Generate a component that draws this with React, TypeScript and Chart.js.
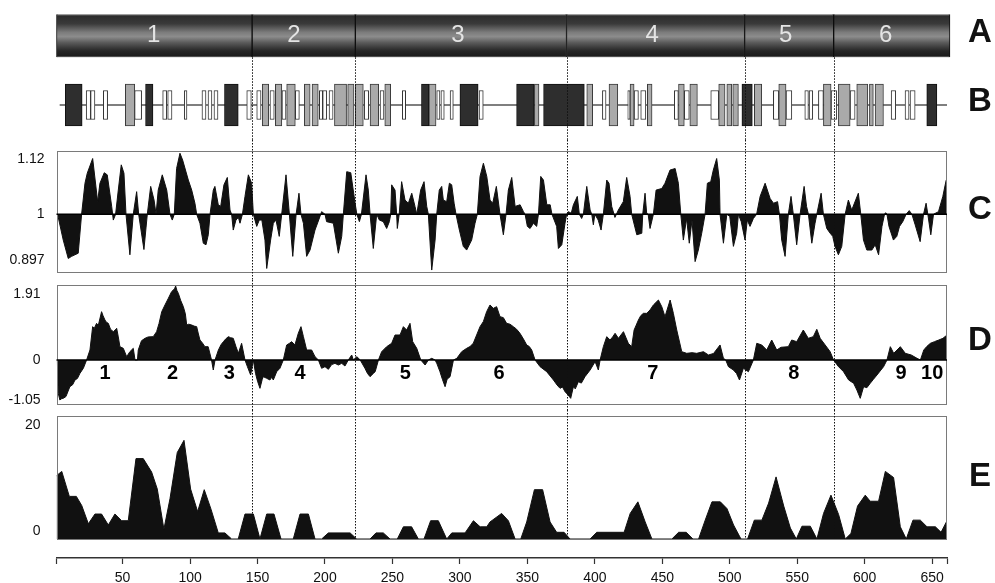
import React, { useEffect, useRef } from "react";
import { Chart, registerables } from "chart.js";

Chart.register(...registerables);

const FONT = "'Liberation Sans', Arial, Helvetica, sans-serif";
Chart.defaults.font.family = FONT;
Chart.defaults.color = "#111";

// ---------- shared x axis (residue number) ----------
const X_MIN = 1;
const X_MAX = 661;
const X_TICKS = [1, 50, 100, 150, 200, 250, 300, 350, 400, 450, 500, 550, 600, 650, 661];
const X_TICK_LABELS = ["50", "100", "150", "200", "250", "300", "350", "400", "450", "500", "550", "600", "650"];
const BOUNDARIES = [146, 222.5, 379, 511, 577];

// ---------- panel A : domains ----------
const A_DOMAINS: [number, number][] = [
  [1, 146], [146, 222.5], [222.5, 379], [379, 511], [511, 577], [577, 663.2],
];
const A_LABELS = ["1", "2", "3", "4", "5", "6"];
const A_LABEL_X = [73, 177, 298.5, 442.5, 541.5, 615.5];

// ---------- panel B : exon/box map ----------
const B_LINE: [number, number][] = [[3.6, 661.8]];
const B_DARK: [number, number][] = [
  [7.5, 20], [67, 72.5], [125.5, 135.7], [271.5, 277], [300, 313.5], [342, 355],
  [362, 392.2], [509, 516.7], [646, 653.5],
];
const B_GRAY: [number, number][] = [
  [52, 59], [153.5, 158.3], [163.2, 168], [171.6, 178], [184.7, 189], [190.4, 195],
  [207, 216], [216.8, 221.5], [222.5, 228.4], [233.4, 239.8], [244.3, 248.7], [277, 282.3],
  [355.2, 358.6], [394, 398.4], [410.5, 417], [426.1, 429.1], [438.9, 442.4], [462, 466.3],
  [470.4, 476], [491.8, 496.5], [497.8, 501.5], [502.2, 506.4], [518.2, 523.7], [536.3, 541.7],
  [569.4, 575.1], [580.5, 589.2], [594.1, 602.3], [603.5, 606.4], [607.7, 613.9],
];
const B_WHITE: [number, number][] = [
  [23, 26.3], [26.3, 29.5], [35.7, 38.9], [58.9, 64.1], [79.7, 82.7], [83.4, 86.6],
  [95.7, 97.7], [108.8, 111.8], [113.3, 116.2], [117.7, 120.7], [142, 145.4], [149.4, 152.6],
  [159.2, 162.4], [168.1, 171.1], [178, 181], [195.8, 198.3], [198.3, 201.3], [203, 206],
  [229.1, 232.4], [240.8, 243.7], [257.3, 259.8], [282.8, 285.2], [285.9, 288.4], [292.7, 295.1],
  [314.2, 317.3], [405.6, 408.3], [424.4, 426.1], [429.1, 432.3], [434, 437.8], [458.9, 461.9],
  [466.3, 470], [485.9, 491.8], [532.3, 536.3], [541.7, 546], [555.6, 558.3], [558.8, 561.5],
  [565.7, 569.4], [575.1, 579.3], [589.2, 592.9], [619.6, 623], [629.9, 632.9], [633.6, 637.4],
];

// ---------- panel C ----------
const C_PROFILE: [number, number][] = [
  [1.8, 1], [6, 0.951], [9.7, 0.916], [12.2, 0.92], [17.1, 0.926], [19.6, 1], [22.1, 1.059], [23.8, 1.078],
  [27.8, 1.106], [31.5, 1.024], [33.2, 1.059], [36.4, 1.079], [38.6, 1.075], [41.9, 1.015], [43.1, 0.989],
  [44.8, 1], [46.8, 1.046], [49, 1.094], [51, 1.078], [52.5, 1], [55.4, 0.923], [57.9, 1], [60.4, 1.043],
  [61.9, 1], [65.8, 0.933], [68.3, 1], [70.8, 1.053], [73.3, 1.027], [74.8, 1], [76.4, 1.046], [79.4, 1.075],
  [82.7, 1.046], [85.1, 1], [86.8, 0.989], [88.3, 1], [90, 1.087], [92.5, 1.116], [94.5, 1.103], [98.7, 1.065],
  [101.2, 1.046], [103.6, 1.021], [104.9, 1], [107.3, 0.983], [109.8, 0.945], [111.8, 0.942], [113.5, 0.961],
  [114.8, 1], [117.2, 1.046], [118.4, 1.053], [120.9, 1.018], [122.7, 1.015], [125.1, 1.056], [127.6, 1.07],
  [129.6, 1.008], [130.8, 1], [132, 0.97], [134, 0.989], [135.8, 0.994], [137, 0.983], [138.8, 1],
  [140.7, 1.034], [143.2, 1.075], [145.6, 1.059], [146.9, 1], [149.4, 0.977], [151.3, 0.989], [153.2, 0.989],
  [155.5, 0.951], [156.8, 0.897], [159.7, 0.951], [161.7, 0.983], [163.7, 0.989], [166.1, 0.958], [167.9, 1],
  [171.1, 1.075], [173.6, 1], [176.1, 0.92], [178.6, 1], [180.7, 1.04], [182.2, 1], [184, 0.983], [186.4, 0.92],
  [188.9, 0.932], [192.6, 0.97], [196.3, 0.996], [197.5, 1.005], [200, 1], [201.2, 0.986], [206.2, 0.983],
  [209.9, 0.926], [212.4, 0.958], [213.6, 1], [216.1, 1.081], [219.1, 1.079], [222.3, 1.021], [223.6, 1],
  [225.5, 0.986], [227, 1], [230.4, 1.075], [232.1, 1.046], [233.4, 1], [235.8, 0.935], [238.3, 1],
  [240.3, 0.989], [243.2, 0.986], [245.7, 0.973], [247.7, 0.986], [248.7, 1], [249.4, 1.056], [251.9, 1.046],
  [253.1, 1], [253.6, 0.973], [255, 1], [256.8, 1.062], [259.3, 1.027], [261.8, 1.021], [264.3, 1.04],
  [266.7, 1.015], [268, 1], [270.9, 1.046], [273.4, 1.062], [275.4, 1.015], [276.6, 1], [279.1, 0.894],
  [281.6, 0.951], [282.8, 1], [284.7, 1.046], [286.5, 1.053], [287.7, 1.027], [290.2, 1.024], [292.2, 1.059],
  [293.9, 1.056], [295.7, 1.021], [297.1, 1], [299.6, 0.97], [302.5, 0.939], [305, 0.932], [308.7, 0.951],
  [311.2, 0.983], [312.9, 1], [314.9, 1.072], [317.4, 1.097], [319.9, 1.072], [322.3, 1.027], [324.3, 1.021],
  [327, 1.053], [329.7, 1], [332.2, 0.961], [334.2, 1], [335.9, 1.046], [338.4, 1.07], [340.9, 1.015],
  [344.6, 1.018], [347.1, 1.005], [348.3, 1], [350, 0.977], [352, 0.973], [354.5, 0.983], [356.9, 0.977],
  [358.2, 1], [359.9, 1.072], [361.9, 1.065], [364.4, 1.018], [366.9, 1.018], [368.2, 1], [371.7, 0.977],
  [373, 0.935], [375.5, 0.942], [377.9, 0.983], [379.1, 1], [380.4, 1.005], [382.5, 1.002], [384.1, 1.018],
  [387, 1.034], [388.5, 1], [390.2, 0.992], [391.5, 1], [394, 1.053], [396.5, 1.008], [397.7, 1], [398.9, 0.98],
  [400, 1], [402.5, 0.989], [404.6, 0.97], [406.3, 1], [408.8, 1.065], [410.5, 1.059], [412.5, 1.015],
  [414.9, 0.994], [417.4, 1.008], [421.1, 1.024], [423.6, 1.07], [426.1, 1.034], [427.3, 1], [431.1, 0.961],
  [434.8, 0.964], [435.5, 1], [437.2, 1.04], [438.4, 1.002], [439.5, 1], [440.9, 0.973], [443.4, 1],
  [445.4, 1.046], [449.6, 1.049], [452, 1.059], [455.7, 1.084], [459.5, 1.087], [461.9, 1.059], [463.7, 1],
  [465.6, 0.951], [468, 0.992], [470, 0.945], [472, 0.989], [474.3, 0.91], [476.7, 0.932], [479.2, 0.964],
  [481.7, 1], [483.4, 1.059], [485.9, 1.062], [487.8, 1.084], [490.3, 1.106], [492.3, 1.065], [492.8, 1],
  [495.3, 0.945], [497.8, 1], [500, 0.996], [502.7, 0.939], [505.1, 0.964], [506.4, 1], [508.5, 0.986],
  [511.3, 0.951], [513, 0.989], [515, 0.977], [517.5, 0.992], [519.9, 1], [522.5, 1.034], [526.2, 1.059],
  [529.9, 1.03], [532.4, 1.021], [535.4, 1.024], [536.8, 1], [538.5, 0.951], [541, 0.92], [543.4, 1],
  [545.4, 1.034], [547.1, 1], [549.6, 0.942], [552.1, 1], [555.1, 1.053], [556.9, 1.015], [558.3, 1],
  [560.8, 0.945], [563.2, 0.983], [564.5, 1], [567.7, 1.04], [569.4, 1], [571.9, 0.973], [574.4, 0.964],
  [576.3, 0.958], [578, 0.939], [580.5, 0.923], [583, 0.939], [585.5, 1], [587.9, 1.027], [590.4, 1.008],
  [595.3, 1.04], [597.1, 1], [599.1, 0.951], [601.6, 0.932], [605.3, 0.932], [607.8, 0.942], [610.3, 0.923],
  [612.8, 0.977], [614.7, 1], [615.5, 1.003], [616.5, 1], [618, 0.977], [621.3, 0.951], [623.8, 0.958],
  [625.8, 0.977], [628.2, 0.986], [630.7, 1], [633, 1.007], [635, 1], [637.4, 0.98], [641.1, 0.948],
  [643.6, 1], [645.5, 1.021], [646.8, 1], [649, 0.961], [651, 1], [654.7, 1.005], [657.9, 1.034], [660.4, 1.065],
];
const C_RANGE = [0.8897, 1.1203];
const C_TICKS = [0.897, 1, 1.12];
const C_TICK_LABELS = ["0.897", "1", "1.12"];

// ---------- panel D ----------
const D_PROFILE: [number, number][] = [
  [1.6, 0], [2.3, -0.866], [3.5, -1.039], [5, -1.0], [6, -0.996], [8, -0.95], [10.9, -0.693], [13, -0.64],
  [14.7, -0.519], [16.5, -0.48], [18.4, -0.346], [20.9, -0.216], [23.3, 0], [25.8, 0.26], [27.8, 0.866],
  [29, 0.82], [30.7, 0.952], [32, 0.9], [34.4, 1.255], [35.5, 1.15], [36.9, 1.039], [38, 0.98], [39.4, 0.952],
  [41, 0.8], [43.1, 0.736], [44.5, 0.78], [45.6, 0.823], [46.8, 0.6], [48, 0.346], [50.5, 0.303], [53, 0.087],
  [55.4, 0.216], [57.9, 0.303], [59.2, 0], [61, 0], [61.6, 0.26], [64, 0.5], [66.6, 0.563], [69, 0.6],
  [72.7, 0.606], [75.2, 0.736], [77, 0.95], [79, 1.255], [81.4, 1.429], [83.9, 1.602], [86.3, 1.775],
  [88.5, 1.85], [89.3, 1.922], [90.3, 1.8], [91.3, 1.732], [93, 1.55], [95, 1.385], [96.5, 1.2], [97.5, 0.909],
  [99, 0.93], [101.2, 0.909], [103, 0.88], [104.9, 0.866], [106, 0.7], [107.3, 0.519], [109, 0.45],
  [111, 0.346], [113.4, 0.346], [115.9, 0], [117.2, -0.26], [118.5, 0], [121, 0.26], [123, 0.4], [124.7, 0.476],
  [126.5, 0.55], [128.4, 0.606], [130, 0.58], [132, 0.563], [134, 0.35], [135.8, 0.173], [138.2, 0.433],
  [140.7, 0], [142.5, -0.173], [144.9, -0.39], [146.9, 0], [148.5, -0.346], [150, -0.55], [151.8, -0.736],
  [153.5, -0.5], [154.3, -0.433], [156.8, -0.476], [159.2, -0.519], [160.5, -0.45], [161.7, -0.519],
  [164.2, -0.303], [166.6, -0.216], [169.1, 0], [171.6, 0.39], [173.5, 0.43], [175.3, 0.476], [177.7, 0.39],
  [180.2, 0.693], [182.2, 0.866], [184, 0.606], [186.4, 0.26], [188.9, 0.26], [190.1, 0.26], [192.6, 0.087],
  [195.1, 0], [197.5, -0.216], [200, -0.173], [202.5, -0.242], [204.9, -0.12], [207.4, -0.087], [209.9, -0.13],
  [212.4, -0.087], [214.8, -0.156], [217.3, 0], [219.8, 0.13], [221, 0], [223.6, 0.087], [226.1, 0],
  [229.6, -0.216], [231.5, -0.35], [233.4, -0.433], [235.8, -0.35], [237.2, -0.303], [239.6, 0], [242, 0.216],
  [245.7, 0.346], [249.4, 0.433], [251.9, 0.649], [255.6, 0.649], [258.1, 0.866], [260.5, 0.779], [263, 0.952],
  [265, 0.476], [268, 0.303], [271, 0], [274.2, -0.13], [276.6, 0], [279.1, 0.043], [281.6, 0], [283, -0.1],
  [285.2, -0.303], [287, -0.5], [289, -0.693], [290.5, -0.5], [292.7, -0.433], [295.2, 0], [297.7, 0.043],
  [301.3, 0.216], [305, 0.303], [307.5, 0.35], [309.9, 0.433], [312.4, 0.65], [314.9, 0.866], [317.4, 1.0],
  [319.8, 1.255], [322.3, 1.429], [324.8, 1.342], [327.2, 1.385], [329.7, 1.126], [332.2, 1.1], [334.6, 0.952],
  [337.1, 0.93], [339.6, 0.866], [342, 0.8], [344.5, 0.693], [347, 0.55], [349.5, 0.39], [351.4, 0.35],
  [353.2, 0.26], [355.7, 0], [359.4, -0.173], [364.3, -0.303], [369.3, -0.519], [372, -0.65], [374.2, -0.736],
  [376, -0.7], [377.9, -0.823], [380, -0.9], [382.1, -0.996], [384.1, -0.693], [385.5, -0.75], [387.8, -0.563],
  [390, -0.6], [392.7, -0.433], [396.5, -0.26], [400.2, -0.043], [402.6, -0.26], [403.9, 0], [406.3, 0.346],
  [408.8, 0.606], [411.3, 0.519], [413.2, 0.6], [415, 0.693], [417.5, 0.563], [421.2, 0.736], [424.8, 0.433],
  [427.3, 0.346], [429.1, 0.779], [432.3, 1.039], [434, 1.15], [436, 1.212], [438.5, 1.212], [440.9, 1.3],
  [443.4, 1.429], [447.1, 1.558], [449.6, 1.385], [452, 1.126], [455.8, 1.558], [458.2, 1.212], [460.7, 0.779],
  [464.4, 0.216], [468.1, 0.173], [472, 0.19], [475.5, 0.173], [480.5, 0.216], [484.2, 0.13], [488, 0.17],
  [492.8, 0.39], [495.3, 0.043], [497, 0], [499, -0.173], [502.7, -0.26], [505, -0.35], [507.2, -0.519],
  [510.1, -0.216], [513.8, -0.303], [517.5, 0], [520, 0.433], [523.7, 0.39], [527.4, 0.26], [531.1, 0.519],
  [534.8, 0.26], [538, 0.33], [543.4, 0.346], [545.9, 0.519], [549.6, 0.476], [554.5, 0.779], [558.2, 0.563],
  [561.9, 0.606], [564.5, 0.797], [567, 0.563], [570.7, 0.39], [574.4, 0.216], [576.9, 0], [580.6, -0.173],
  [584.3, -0.303], [588.1, -0.519], [591.8, -0.606], [594.2, -0.779], [596.7, -0.996], [599.2, -0.693],
  [601.6, -0.72], [604.1, -0.606], [606.5, -0.5], [609.1, -0.39], [614, -0.173], [616.5, 0], [619, 0.346],
  [621.5, 0.173], [626.4, 0.346], [630.1, 0.173], [634.5, 0.13], [638.8, 0.043], [641.3, 0], [643.8, 0.26],
  [646, 0.35], [648.7, 0.433], [651.7, 0.476], [654.9, 0.519], [658, 0.563], [661, 0.649],
];
const D_RANGE = [-1.143, 1.948];
const D_TICKS = [-1.05, 0, 1.91];
const D_TICK_LABELS = ["-1.05", "0", "1.91"];
const D_LABELS = ["1", "2", "3", "4", "5", "6", "7", "8", "9", "10"];
const D_LABEL_X = [37, 87, 129, 181.5, 259.5, 329, 443, 547.5, 627, 650];
const D_LABEL_Y = -0.35;

// ---------- panel E ----------
const E_PROFILE: [number, number][] = [
  [1, 10.4], [4.9, 11.1], [10.5, 7], [15.7, 7], [19.7, 5.5], [24.6, 2.5], [29.5, 4.1], [34.4, 4.1], [39.4, 2.3],
  [44.3, 4.1], [49.3, 3], [54.2, 3], [59.9, 13.2], [65.3, 13.2], [71.5, 11], [75.7, 8.2], [80.6, 1.6],
  [85.1, 6.6], [90.5, 14.2], [95.5, 16.2], [100.4, 8.2], [105.6, 4.5], [110.5, 8.1], [115.5, 4.9], [120.9, 1],
  [125.8, 1], [130.8, 0], [135.7, 0], [140.7, 4.1], [146.9, 4.1], [151.8, 0], [156.8, 4.1], [162.2, 4.1],
  [167.4, 0], [176.5, 0], [181.5, 4.1], [187.7, 4.1], [192.6, 0], [197.5, 0], [202.5, 1], [218.6, 1],
  [223.5, 0], [233.4, 0], [237.8, 1], [243.2, 1], [248.2, 0], [253.6, 0], [258.1, 2], [264.2, 2], [269.2, 0],
  [273.4, 0], [278.3, 3], [284, 3], [290.2, 0], [294, 1], [303.8, 1], [310, 3], [315, 2], [319.9, 2],
  [322.3, 2.8], [330.9, 4.2], [335.9, 3], [340.9, 0], [345.1, 0], [349.5, 2.8], [355.2, 8.1], [361.3, 8.1],
  [366.8, 2.8], [371.7, 1.1], [377.2, 1.1], [381.6, 0], [396.5, 0], [401.4, 1.1], [421.7, 1.1], [426.2, 4.2],
  [431.9, 6.1], [437.3, 2.8], [442.3, 0], [457.1, 0], [462.1, 1.1], [467.7, 1.1], [472.7, 0], [476.9, 0],
  [481.8, 3.1], [486.8, 6.1], [493, 6.1], [497.9, 5], [502.8, 2.3], [508.3, 0], [513.2, 0], [518.2, 3.1],
  [523.8, 3.1], [528.8, 5.9], [534.3, 10.2], [540, 5.4], [544.9, 1.8], [549.3, 0], [553.5, 2.1], [559.7, 2.1],
  [564.6, 0], [569.5, 4.2], [575, 7.2], [580.7, 4], [585.6, 0], [589.8, 0.9], [594.7, 5.4], [600.4, 7.2],
  [604.1, 6.2], [610.3, 6.2], [615.3, 11.1], [621.4, 10.1], [626.4, 2], [630.8, 0], [635.8, 3.1], [641.2, 3.1],
  [646.2, 2], [652.4, 2], [656.6, 1.1], [661, 3],
];
const E_RANGE = [-3.12, 20.2];
const E_TICKS = [0, 20];
const E_TICK_LABELS = ["0", "20"];

const PANEL_LETTERS = ["A", "B", "C", "D", "E"];

// ---------- layout constants (pixels) ----------
const W = 995;
const AXIS_W = 56.5;
const PAD_RIGHT = 48;
const FILL = "#111";

// ---------- helpers ----------
const shiftLabel = (t: string, dir: number) => (dir > 0 ? ["", t] : dir < 0 ? [t, ""] : t);

const noOverflow = (s: any) => {
  s.paddingTop = 0;
  s.paddingBottom = 0;
  s.paddingLeft = 0;
  s.paddingRight = 0;
};

const xScaleHidden = () => ({ type: "linear", min: X_MIN, max: X_MAX, display: false });

const yScale = (range: number[], ticks: number[], labels: string[], shifts: number[], padding: number) => ({
  type: "linear",
  min: range[0],
  max: range[1],
  afterFit: (s: any) => {
    s.width = AXIS_W;
    noOverflow(s);
  },
  afterBuildTicks: (s: any) => {
    s.ticks = ticks.map((value) => ({ value }));
  },
  grid: { display: false },
  border: { display: false },
  ticks: {
    autoSkip: false,
    padding,
    color: "#111",
    font: { size: 14, family: FONT, lineHeight: 16 / 14 },
    callback: (_v: any, i: number) => shiftLabel(labels[i], shifts[i]),
  },
});

const boundaryPlugin = (getTop: (c: any) => number, getBottom: (c: any) => number) => ({
  id: "boundaries",
  afterDatasetsDraw(chart: any) {
    const { ctx } = chart;
    const xs = chart.scales.x;
    const y0 = getTop(chart);
    const y1 = getBottom(chart);
    ctx.save();
    ctx.strokeStyle = "#111";
    ctx.lineWidth = 1;
    ctx.setLineDash([1.5, 1.5]);
    for (const b of BOUNDARIES) {
      const x = Math.round(xs.getPixelForValue(b)) + 0.5;
      ctx.beginPath();
      ctx.moveTo(x, y0);
      ctx.lineTo(x, y1);
      ctx.stroke();
    }
    ctx.restore();
  },
});

const framePlugin = (getBottom?: (c: any) => number) => ({
  id: "frame",
  afterDatasetsDraw(chart: any) {
    const { ctx, chartArea: a } = chart;
    const bottom = getBottom ? getBottom(chart) : a.bottom;
    ctx.save();
    ctx.strokeStyle = "#7a7a7a";
    ctx.lineWidth = 1;
    const l = Math.round(a.left) + 0.5;
    const t = Math.round(a.top) + 0.5;
    const r = Math.round(a.right) - 0.5;
    const b = Math.round(bottom) + 0.5;
    ctx.strokeRect(l, t, r - l, b - t);
    ctx.restore();
  },
});

const baselinePlugin = (value: number) => ({
  id: "baseline",
  afterDatasetsDraw(chart: any) {
    const { ctx, chartArea: a } = chart;
    const y = chart.scales.y.getPixelForValue(value);
    ctx.save();
    ctx.strokeStyle = "#000";
    ctx.lineWidth = 1.5;
    ctx.beginPath();
    ctx.moveTo(a.left, y);
    ctx.lineTo(a.right, y);
    ctx.stroke();
    ctx.restore();
  },
});

const areaDataset = (points: [number, number][], fill: any) => ({
  type: "line",
  data: points.map(([x, y]) => ({ x, y })),
  borderColor: FILL,
  backgroundColor: FILL,
  borderWidth: 1,
  pointRadius: 0,
  tension: 0,
  fill,
});

const baseOptions = (padding: any, scales: any) => ({
  responsive: false,
  animation: false,
  events: [],
  layout: { padding },
  scales,
  plugins: { legend: { display: false }, tooltip: { enabled: false } },
});

const boxes = (list: [number, number][], thickness: number, bg: any, border: string, bw: any) => ({
  data: list.map((d) => ({ x: d, y: "B" })),
  barThickness: thickness,
  backgroundColor: bg,
  borderColor: border,
  borderWidth: bw,
  borderSkipped: false,
  grouped: false,
});

const A_HALF = 21.5;

function topConfig(): any {
  const gradient = (c: any) => {
    const chart = c.chart;
    const ys = chart.scales && chart.scales.y;
    if (!chart.chartArea || !ys) return "#444";
    const cy = ys.getPixelForValue(0);
    const g = chart.ctx.createLinearGradient(0, cy - A_HALF, 0, cy + A_HALF);
    g.addColorStop(0, "#8a8a8a");
    g.addColorStop(0.04, "#2c2c2c");
    g.addColorStop(0.22, "#3a3a3a");
    g.addColorStop(0.42, "#7c7c7c");
    g.addColorStop(0.52, "#8c8c8c");
    g.addColorStop(0.66, "#5a5a5a");
    g.addColorStop(0.85, "#262626");
    g.addColorStop(0.96, "#1c1c1c");
    g.addColorStop(1, "#7a7a7a");
    return g;
  };
  const darkBox = (c: any) => {
    const chart = c.chart;
    const el = c.element;
    if (!chart.chartArea || !el || !isFinite(el.x) || !isFinite(el.base)) return "#2e2e2e";
    const x0 = Math.min(el.x, el.base);
    const x1 = Math.max(el.x, el.base);
    const g = chart.ctx.createLinearGradient(x0, 0, x1, 0);
    g.addColorStop(0, "#1e1e1e");
    g.addColorStop(0.35, "#4a4a4a");
    g.addColorStop(1, "#1a1a1a");
    return g;
  };
  const aLabels = {
    id: "aLabels",
    afterDatasetsDraw(chart: any) {
      const { ctx } = chart;
      const xs = chart.scales.x;
      const ys = chart.scales.y;
      const y = ys.getPixelForValue(0);
      ctx.save();
      ctx.fillStyle = "#e4e4e4";
      ctx.font = `24px ${FONT}`;
      ctx.textAlign = "center";
      ctx.textBaseline = "middle";
      A_LABELS.forEach((t, i) => ctx.fillText(t, xs.getPixelForValue(A_LABEL_X[i]), y));
      ctx.restore();
    },
  };
  return {
    type: "bar",
    data: {
      labels: ["A", "B"],
      datasets: [
        {
          data: A_DOMAINS.map((d) => ({ x: d, y: "A" })),
          barThickness: 43,
          backgroundColor: gradient,
          borderColor: "#0c0c0c",
          borderWidth: { left: 1, right: 1, top: 0, bottom: 0 },
          borderSkipped: false,
          grouped: false,
          clip: false,
        },
        boxes(B_DARK, 42, darkBox, "#111", 1),
        boxes(B_GRAY, 42, "#aaaaaa", "#3a3a3a", 1),
        boxes(B_WHITE, 29, "#ffffff", "#333", 1),
        boxes(B_LINE, 1, "#555", "#555", 0),
      ],
    },
    options: {
      ...baseOptions(
        { left: AXIS_W, right: PAD_RIGHT, top: 1.2, bottom: 0.4 },
        {
          x: xScaleHidden(),
          y: { type: "category", display: false, offset: true },
        }
      ),
      indexAxis: "y",
    },
    plugins: [
      aLabels,
      boundaryPlugin(
        (c) => c.scales.y.getPixelForValue(0) + A_HALF,
        (c) => c.height
      ),
    ],
  };
}

function cConfig(): any {
  return {
    type: "line",
    data: { datasets: [areaDataset(C_PROFILE, { value: 1 })] },
    options: baseOptions(
      { left: 0, right: PAD_RIGHT, top: 11, bottom: 7.7 },
      {
        x: xScaleHidden(),
        y: yScale(C_RANGE, C_TICKS, C_TICK_LABELS, [-1, 0, 1], 4),
      }
    ),
    plugins: [framePlugin(), baselinePlugin(1), boundaryPlugin(() => 0, (c) => c.height)],
  };
}

function dConfig(): any {
  const dLabels = {
    id: "dLabels",
    afterDatasetsDraw(chart: any) {
      const { ctx } = chart;
      const xs = chart.scales.x;
      const ys = chart.scales.y;
      ctx.save();
      ctx.fillStyle = "#000";
      ctx.font = `bold 20px ${FONT}`;
      ctx.textAlign = "center";
      ctx.textBaseline = "middle";
      D_LABELS.forEach((t, i) =>
        ctx.fillText(t, xs.getPixelForValue(D_LABEL_X[i]), ys.getPixelForValue(D_LABEL_Y))
      );
      ctx.restore();
    },
  };
  return {
    type: "line",
    data: { datasets: [areaDataset(D_PROFILE, "origin")] },
    options: baseOptions(
      { left: 0, right: PAD_RIGHT, top: 5, bottom: 6 },
      {
        x: xScaleHidden(),
        y: yScale(D_RANGE, D_TICKS, D_TICK_LABELS, [0, 0, 1], 8),
      }
    ),
    plugins: [framePlugin(), baselinePlugin(0), boundaryPlugin(() => 0, (c) => c.height), dLabels],
  };
}

function eConfig(): any {
  const zeroY = (c: any) => c.scales.y.getPixelForValue(0);
  return {
    type: "line",
    data: { datasets: [areaDataset(E_PROFILE, "origin")] },
    options: baseOptions(
      { left: 0, right: PAD_RIGHT, top: 6, bottom: 0 },
      {
        x: {
          type: "linear",
          min: X_MIN,
          max: X_MAX,
          position: "bottom",
          afterFit: (s: any) => {
            s.height = 25;
            noOverflow(s);
          },
          afterBuildTicks: (s: any) => {
            s.ticks = X_TICKS.map((value) => ({ value }));
          },
          grid: {
            display: true,
            drawOnChartArea: false,
            drawTicks: true,
            tickLength: 6,
            tickColor: "#333",
            tickWidth: 1.2,
          },
          border: { display: true, color: "#333", width: 1.5 },
          ticks: {
            autoSkip: false,
            maxRotation: 0,
            minRotation: 0,
            padding: 6,
            color: "#111",
            font: { size: 14, family: FONT },
            callback: (v: any) => (X_TICK_LABELS.includes(String(v)) ? String(v) : ""),
          },
        },
        y: yScale(E_RANGE, E_TICKS, E_TICK_LABELS, [-1, 1], 8),
      }
    ),
    plugins: [framePlugin(zeroY), boundaryPlugin(() => 0, zeroY)],
  };
}

const PANELS = [
  { top: 0, height: 140, make: topConfig },
  { top: 140, height: 140, make: cConfig },
  { top: 280, height: 130, make: dConfig },
  { top: 410, height: 173, make: eConfig },
];

const LETTER_POS = [30, 99, 207, 338, 474];

export default function App() {
  const refs = [
    useRef<HTMLCanvasElement>(null),
    useRef<HTMLCanvasElement>(null),
    useRef<HTMLCanvasElement>(null),
    useRef<HTMLCanvasElement>(null),
  ];

  useEffect(() => {
    const charts: Chart[] = [];
    PANELS.forEach((p, i) => {
      const cv = refs[i].current;
      if (cv) charts.push(new Chart(cv, p.make()));
    });
    return () => charts.forEach((c) => c.destroy());
  }, []);

  return (
    <div
      style={{
        position: "absolute",
        left: 0,
        top: 0,
        width: W,
        height: 583,
        background: "#fff",
        overflow: "hidden",
        fontFamily: FONT,
      }}
    >
      {PANELS.map((p, i) => (
        <canvas
          key={i}
          ref={refs[i]}
          width={W}
          height={p.height}
          style={{ position: "absolute", left: 0, top: p.top, width: W, height: p.height }}
        />
      ))}
      {PANEL_LETTERS.map((l, i) => (
        <div
          key={l}
          style={{
            position: "absolute",
            left: 980,
            top: LETTER_POS[i],
            transform: "translate(-50%, -50%)",
            fontWeight: "bold",
            fontSize: 33,
            lineHeight: 1,
            color: "#111",
          }}
        >
          {l}
        </div>
      ))}
    </div>
  );
}
